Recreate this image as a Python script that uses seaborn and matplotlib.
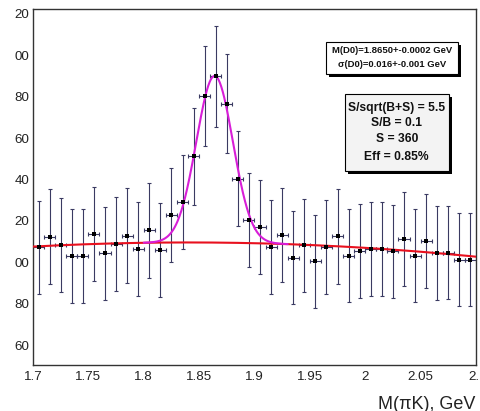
import numpy as np
import pandas as pd
import matplotlib
matplotlib.use("Agg")
import matplotlib.pyplot as plt
import matplotlib.transforms as mtransforms
from matplotlib.patches import Rectangle
from matplotlib.ticker import MultipleLocator, FixedLocator, FixedFormatter
import seaborn as sns

# ---------------- data ----------------
mass = [1.705, 1.715, 1.725, 1.735, 1.745, 1.755, 1.765, 1.775, 1.785, 1.795,
        1.805, 1.815, 1.825, 1.835, 1.845, 1.855, 1.865, 1.875, 1.885, 1.895,
        1.905, 1.915, 1.925, 1.935, 1.945, 1.955, 1.965, 1.975, 1.985, 1.995,
        2.005, 2.015, 2.025, 2.035, 2.045, 2.055, 2.065, 2.075, 2.085, 2.095]
counts = [207.2, 212.4, 208.3, 203.2, 203.2, 213.6, 204.3, 208.7, 212.9, 206.3,
          215.4, 205.8, 222.8, 229.3, 251.2, 280.5, 289.8, 276.6, 240.5, 220.4,
          217.0, 207.6, 213.2, 202.3, 208.2, 200.5, 207.4, 212.5, 203.2, 205.3,
          206.3, 206.3, 205.3, 211.2, 203.2, 210.1, 204.5, 204.7, 201.3, 201.3]
errors = [22.6, 22.8, 22.7, 22.7, 22.7, 22.8, 22.6, 22.7, 22.8, 22.7,
          22.8, 22.7, 22.8, 22.8, 23.3, 24.2, 24.5, 24.0, 22.8, 22.8,
          22.7, 22.7, 22.7, 22.6, 22.6, 22.5, 22.6, 22.8, 22.6, 22.7,
          22.7, 22.7, 22.6, 22.8, 22.6, 22.7, 22.6, 22.6, 22.5, 22.5]
bin_half = 0.005

# fit parameters
bkg_ref, bkg_c1, bkg_c2 = 209.6, -2.0, -102.0   # quadratic around x=1.85
sig_mean, sig_sigma, sig_amp = 1.864, 0.0165, 80.5
sig_range = (1.80, 1.93)

yticks = [160, 180, 200, 220, 240, 260, 280, 300, 320]
ytick_labels = ["60", "80", "00", "20", "40", "60", "80", "00", "20"]
xticks = [1.7, 1.75, 1.8, 1.85, 1.9, 1.95, 2.0, 2.05, 2.1]
xtick_labels = ["1.7", "1.75", "1.8", "1.85", "1.9", "1.95", "2", "2.05", "2."]

info1 = ["M(D0)=1.8650+-0.0002 GeV", "\u03c3(D0)=0.016+-0.001 GeV"]
info2 = ["S/sqrt(B+S) = 5.5", "S/B = 0.1", "S = 360", "Eff = 0.85%"]
xlabel = "M(\u03c0K), GeV"

# ---------------- style ----------------
sns.set_theme(style="white")
plt.rcParams["font.family"] = ["Liberation Sans", "DejaVu Sans"]

W, H = 480, 411
fig = plt.figure(figsize=(W / 100, H / 100), dpi=100)
fig.patch.set_facecolor("white")
ax = fig.add_axes([33 / W, 46 / H, 443 / W, 356 / H])
ax.set_facecolor("white")

df = pd.DataFrame({"mass": mass, "counts": counts, "err": errors})


def bkg(x):
    d = x - 1.85
    return bkg_ref + bkg_c1 * d + bkg_c2 * d * d


xs_full = np.linspace(1.7, 2.1, 400)
xs_sig = np.linspace(sig_range[0], sig_range[1], 300)
curve_bkg = pd.DataFrame({"x": xs_full, "y": bkg(xs_full)})
curve_sig = pd.DataFrame({"x": xs_sig,
                          "y": bkg(xs_sig) + sig_amp * np.exp(-0.5 * ((xs_sig - sig_mean) / sig_sigma) ** 2)})

# error bars
ax.errorbar(df["mass"], df["counts"], yerr=df["err"], xerr=bin_half, fmt="none",
            ecolor="#3a3a62", elinewidth=0.8, capsize=1.5, capthick=0.8, zorder=2)
# fit curves
sns.lineplot(data=curve_bkg, x="x", y="y", ax=ax, color="#e8101e", lw=1.5, zorder=3)
sns.lineplot(data=curve_sig, x="x", y="y", ax=ax, color="#d81ed8", lw=1.5, zorder=4)
# markers
sns.scatterplot(data=df, x="mass", y="counts", ax=ax, marker="s", s=10,
                color="black", edgecolor="black", linewidth=0, zorder=5)

ax.set_xlim(1.7, 2.1)
ax.set_ylim(150.4, 322.4)
ax.set_xlabel("")
ax.set_ylabel("")

ax.yaxis.set_major_locator(FixedLocator(yticks))
ax.yaxis.set_major_formatter(FixedFormatter(ytick_labels))
ax.yaxis.set_minor_locator(MultipleLocator(5))
ax.xaxis.set_major_locator(FixedLocator(xticks))
ax.xaxis.set_major_formatter(FixedFormatter(xtick_labels))
ax.xaxis.set_minor_locator(MultipleLocator(0.01))

ax.tick_params(axis="both", which="both", direction="in", colors="#555555",
               labelcolor="#222222", labelsize=9.6, top=False, right=False)
ax.tick_params(axis="y", which="major", length=10, width=0.9, pad=2.5)
ax.tick_params(axis="y", which="minor", length=5, width=0.8)
ax.tick_params(axis="x", which="major", length=7.5, width=0.9, pad=4)
ax.tick_params(axis="x", which="minor", length=3.8, width=0.8)
for sp in ax.spines.values():
    sp.set_visible(True)
    sp.set_color("#333333")
    sp.set_linewidth(1.0)

# last x tick label sits at the right edge: keep it inside the canvas
last = ax.get_xticklabels()[-1]
last.set_horizontalalignment("right")
last.set_transform(last.get_transform() +
                   mtransforms.ScaledTranslation(3.5 / 100, 0, fig.dpi_scale_trans))

fig.text(475 / W, 1 - 404 / H, xlabel, ha="right", va="center",
         fontsize=13, color="#222222")


# ---------------- info boxes ----------------
def box(x0, y0, x1, y1, face):
    # pixel coords from top-left
    sh = 3
    fig.patches.append(Rectangle(((x0 + sh) / W, 1 - (y1 + sh) / H), (x1 - x0) / W, (y1 - y0) / H,
                                 transform=fig.transFigure, facecolor="black",
                                 edgecolor="none", zorder=10))
    fig.patches.append(Rectangle((x0 / W, 1 - y1 / H), (x1 - x0) / W, (y1 - y0) / H,
                                 transform=fig.transFigure, facecolor=face,
                                 edgecolor="black", lw=0.8, zorder=11))


box(325.7, 41.7, 457.7, 74.3, "white")
for txt, yy in zip(info1, [50.7, 64.3]):
    fig.text(391.7 / W, 1 - yy / H, txt, ha="center", va="center",
             fontsize=6.8, fontweight="bold", color="#111111", zorder=12)

box(344.7, 94.3, 449.0, 170.7, "#f3f3f3")
for txt, yy in zip(info2, [107.7, 123.3, 139.3, 156.7]):
    fig.text(396.8 / W, 1 - yy / H, txt, ha="center", va="center",
             fontsize=8.7, fontweight="bold", color="#111111", zorder=12)

fig.savefig("out.png", dpi=100)
